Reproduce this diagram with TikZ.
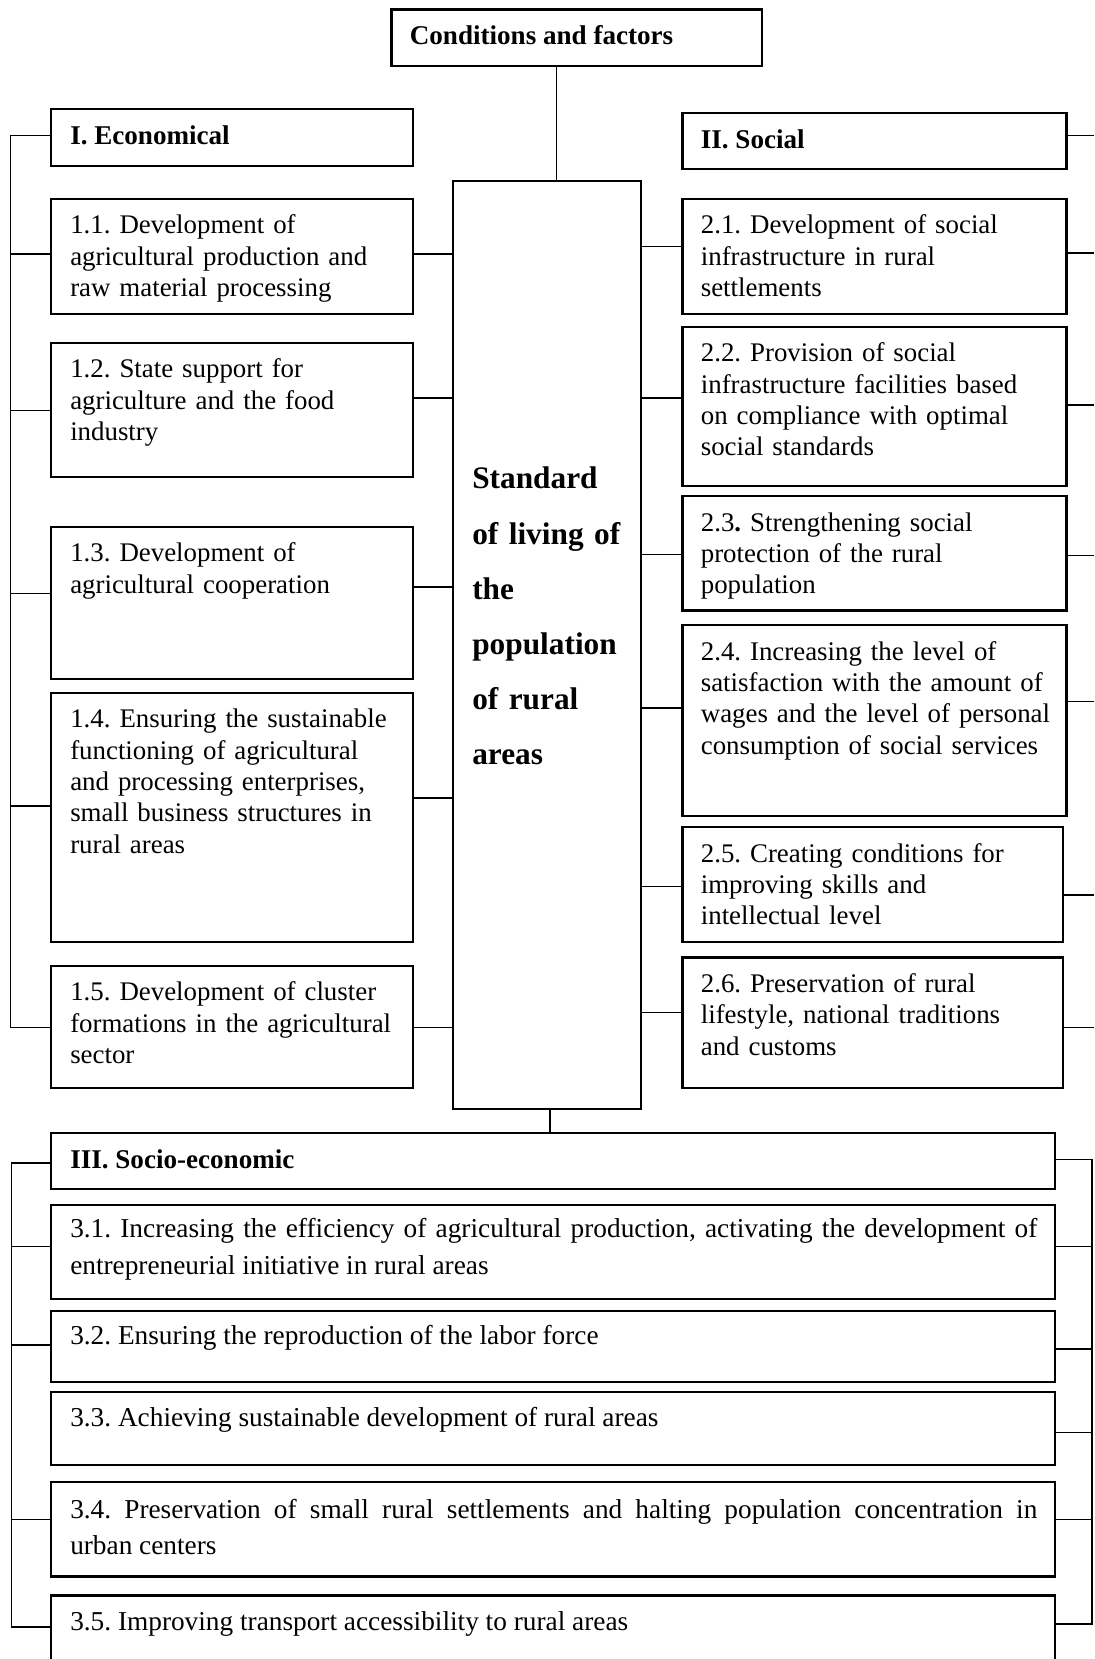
\documentclass[tikz,border=0pt]{standalone}
\usepackage{fontspec}
\setmainfont{Liberation Serif}
\frenchspacing
\usetikzlibrary{fit,calc}
\begin{document}
\begin{tikzpicture}[x=0.5pt,y=-0.5pt,
  bx/.style={draw, line width=1pt, inner sep=0pt, fit={#1}},
  conn/.style={line width=0.75pt},
  tl/.style={anchor=base west, inner sep=0pt, text width=180pt, align=left,
     font=\fontsize{12.7}{14.8}\selectfont},
  th/.style={anchor=base west, inner sep=0pt, font=\bfseries\fontsize{12.8}{15}\selectfont},
  tw/.style={anchor=base west, inner sep=0pt, text width=457pt, align=justify,
     font=\fontsize{12.9}{17.2}\selectfont},
  tc/.style={anchor=base west, inner sep=0pt, text width=85pt, align=left,
     font=\bfseries\fontsize{14.8}{26.1}\selectfont}]
\useasboundingbox (0,0) rectangle (1034,1568);
\clip (0,0) rectangle (1034,1568);

% ---------- top ----------
\node[bx={(370,9) (720,62)}] (cond) {};
\node[th] (condt) at (387,42) {Conditions and factors};

\node[bx={(428,171) (606,1048)}] (ctr) {};
\node[tc] (ctrt) at (446,462) {Standard\\of living of\\the\\population\\of rural\\areas};

% ---------- left column ----------
\node[bx={(48,103) (390,157)}] (econ) {};
\node[th] (econt) at (66,137) {I. Economical};

\node[bx={(48,188) (390,297)}] (n11) {};
\node[tl] (n11t) at (66,221) {1.1. Development of\\agricultural production and\\raw material processing};

\node[bx={(48,324) (390,451)}] (n12) {};
\node[tl] (n12t) at (66,357) {1.2. State support for\\agriculture and the food\\industry};

\node[bx={(48,498) (390,642)}] (n13) {};
\node[tl] (n13t) at (66,531) {1.3. Development of\\agricultural cooperation};

\node[bx={(48,655) (390,890)}] (n14) {};
\node[tl] (n14t) at (66,688) {1.4. Ensuring the sustainable\\functioning of agricultural\\and processing enterprises,\\small business structures in\\rural areas};

\node[bx={(48,913) (390,1028)}] (n15) {};
\node[tl] (n15t) at (66,946) {1.5. Development of cluster\\formations in the agricultural\\sector};

% ---------- right column ----------
\node[bx={(645,107) (1008,160)}] (soc) {};
\node[th] (soct) at (662,140) {II. Social};

\node[bx={(645,188) (1008,297)}] (s21) {};
\node[tl] (s21t) at (662,221) {2.1. Development of social\\infrastructure in rural\\settlements};

\node[bx={(645,309) (1008,459)}] (s22) {};
\node[tl] (s22t) at (662,342) {2.2. Provision of social\\infrastructure facilities based\\on compliance with optimal\\social standards};

\node[bx={(645,469) (1008,577)}] (s23) {};
\node[tl] (s23t) at (662,502) {2.3\textbf{.} Strengthening social\\protection of the rural\\population};

\node[bx={(645,591) (1008,771)}] (s24) {};
\node[tl] (s24t) at (662,624) {2.4. Increasing the level of\\satisfaction with the amount of\\wages and the level of personal\\consumption of social services};

\node[bx={(645,782) (1005,890)}] (s25) {};
\node[tl] (s25t) at (662,815) {2.5. Creating conditions for\\improving skills and\\intellectual level};

\node[bx={(645,905) (1005,1028)}] (s26) {};
\node[tl] (s26t) at (662,938) {2.6. Preservation of rural\\lifestyle, national traditions\\and customs};

% ---------- bottom ----------
\node[bx={(48,1071) (997,1124)}] (se) {};
\node[th] (set) at (66,1104) {III. Socio-economic};

\node[bx={(48,1139) (997,1228)}] (t31) {};
\node[tw] (t31t) at (66,1170) {3.1. Increasing the efficiency of agricultural production, activating the development of\linebreak entrepreneurial initiative in rural areas};

\node[bx={(48,1239) (997,1306)}] (t32) {};
\node[tw] (t32t) at (66,1271) {3.2. Ensuring the reproduction of the labor force};

\node[bx={(48,1316) (997,1385)}] (t33) {};
\node[tw] (t33t) at (66,1348) {3.3. Achieving sustainable development of rural areas};

\node[bx={(48,1401) (997,1490)}] (t34) {};
\node[tw] (t34t) at (66,1435) {3.4. Preservation of small rural settlements and halting population concentration in\linebreak urban centers};

\node[bx={(48,1508) (997,1600)}] (t35) {};
\node[tw] (t35t) at (66,1541) {3.5. Improving transport accessibility to rural areas};

% ---------- connectors ----------
\coordinate (LB) at (10,0);
\coordinate (LB2) at (11,0);
\coordinate (RB) at (1034,0);
\coordinate (RB2) at (1032,0);

\draw[conn] (cond.south -| 526,0) -- (ctr.north -| 526,0);
\draw[conn] (ctr.south -| 520,0) -- (se.north -| 520,0);

% left bus (top)
\draw[conn] (econ.west |- 0,128) -| (LB |- 0,971) -- (n15.west |- 0,971);
\draw[conn] (n11.west |- 0,240) -- (LB |- 0,240);
\draw[conn] (n12.west |- 0,388) -- (LB |- 0,388);
\draw[conn] (n13.west |- 0,561) -- (LB |- 0,561);
\draw[conn] (n14.west |- 0,762) -- (LB |- 0,762);

% left boxes to centre
\draw[conn] (n11.east |- 0,240) -- (ctr.west |- 0,240);
\draw[conn] (n12.east |- 0,376) -- (ctr.west |- 0,376);
\draw[conn] (n13.east |- 0,555) -- (ctr.west |- 0,555);
\draw[conn] (n14.east |- 0,754) -- (ctr.west |- 0,754);
\draw[conn] (n15.east |- 0,971) -- (ctr.west |- 0,971);

% centre to right boxes
\draw[conn] (ctr.east |- 0,233) -- (s21.west |- 0,233);
\draw[conn] (ctr.east |- 0,376) -- (s22.west |- 0,376);
\draw[conn] (ctr.east |- 0,524) -- (s23.west |- 0,524);
\draw[conn] (ctr.east |- 0,669) -- (s24.west |- 0,669);
\draw[conn] (ctr.east |- 0,838) -- (s25.west |- 0,838);
\draw[conn] (ctr.east |- 0,957) -- (s26.west |- 0,957);

% right stubs (top)
\draw[conn] (soc.east |- 0,128) -- (RB |- 0,128);
\draw[conn] (s21.east |- 0,239) -- (RB |- 0,239);
\draw[conn] (s22.east |- 0,383) -- (RB |- 0,383);
\draw[conn] (s23.east |- 0,525) -- (RB |- 0,525);
\draw[conn] (s24.east |- 0,663) -- (RB |- 0,663);
\draw[conn] (s25.east |- 0,846) -- (RB |- 0,846);
\draw[conn] (s26.east |- 0,971) -- (RB |- 0,971);

% left bus (bottom)
\draw[conn] (se.west |- 0,1099) -| (LB2 |- 0,1538) -- (t35.west |- 0,1538);
\draw[conn] (t31.west |- 0,1178) -- (LB2 |- 0,1178);
\draw[conn] (t32.west |- 0,1271) -- (LB2 |- 0,1271);
\draw[conn] (t34.west |- 0,1436) -- (LB2 |- 0,1436);

% right bus (bottom)
\draw[conn] (se.east |- 0,1096) -| (RB2 |- 0,1535) -- (t35.east |- 0,1535);
\draw[conn] (t31.east |- 0,1178) -- (RB2 |- 0,1178);
\draw[conn] (t32.east |- 0,1275) -- (RB2 |- 0,1275);
\draw[conn] (t33.east |- 0,1354) -- (RB2 |- 0,1354);
\draw[conn] (t34.east |- 0,1436) -- (RB2 |- 0,1436);
\end{tikzpicture}
\end{document}
